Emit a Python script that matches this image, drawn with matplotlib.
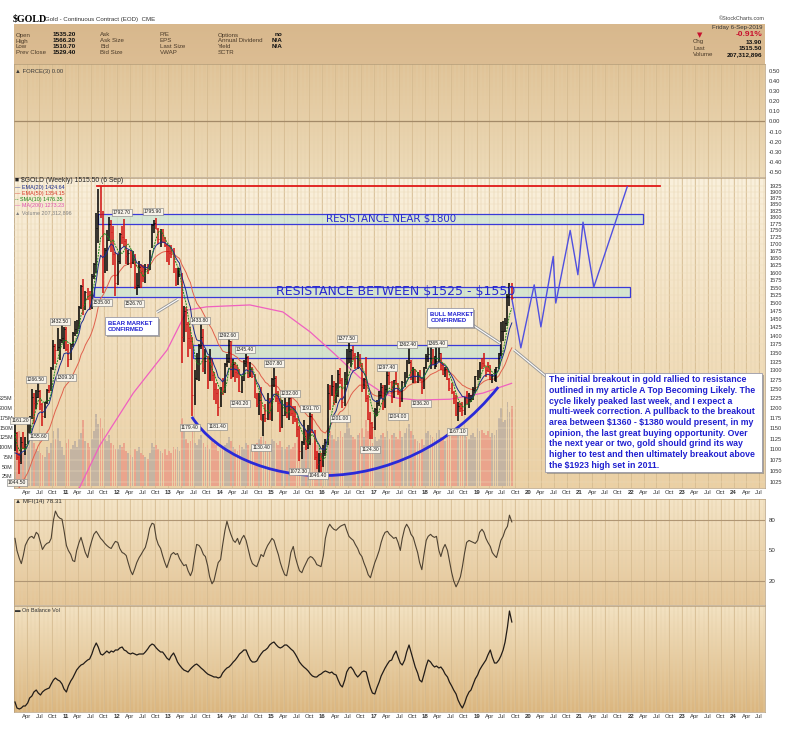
"""$GOLD weekly chart with Force, MFI and OBV panels, StockCharts style."""
import matplotlib
matplotlib.use("Agg")
import matplotlib.pyplot as plt
import matplotlib.patheffects as pe
from matplotlib.colors import to_rgb
from matplotlib.patches import Rectangle, PathPatch
from matplotlib.path import Path
import numpy as np
import pandas as pd

plt.rcParams["font.family"] = ["Liberation Sans", "DejaVu Sans"]

W, H = 797, 739

# ---- price bars, two per month (Jan 2010 .. 6 Sep 2019) ----
close = [
    1138, 1083, 1070, 1118, 1105, 1113, 1150, 1179, 1230, 1213, 1230, 1245, 1210, 1180, 1215, 1247, 1246, 1308, 1368, 1359, 1367, 1386, 1393, 1421,
    1360, 1333, 1375, 1409, 1420, 1439, 1486, 1556, 1493, 1536, 1530, 1500, 1590, 1628, 1760, 1825, 1815, 1620, 1680, 1714, 1775, 1746, 1665, 1566,
    1640, 1737, 1725, 1711, 1658, 1669, 1660, 1664, 1555, 1560, 1620, 1604, 1590, 1614, 1610, 1692, 1772, 1776, 1755, 1719, 1730, 1712, 1696, 1675,
    1668, 1663, 1608, 1578, 1592, 1597, 1395, 1476, 1435, 1393, 1385, 1234, 1280, 1313, 1370, 1396, 1308, 1327, 1280, 1323, 1287, 1250, 1240, 1204,
    1252, 1240, 1319, 1326, 1383, 1283, 1318, 1295, 1293, 1245, 1275, 1322, 1337, 1282, 1305, 1286, 1226, 1210, 1222, 1171, 1185, 1175, 1222, 1184,
    1277, 1279, 1227, 1213, 1153, 1183, 1207, 1182, 1226, 1189, 1181, 1172, 1148, 1095, 1118, 1132, 1108, 1115, 1180, 1141, 1082, 1065, 1076, 1061,
    1090, 1116, 1239, 1234, 1258, 1233, 1235, 1291, 1273, 1217, 1278, 1322, 1355, 1357, 1343, 1311, 1327, 1317, 1257, 1276, 1227, 1173, 1162, 1152,
    1197, 1212, 1235, 1254, 1203, 1249, 1288, 1268, 1230, 1275, 1266, 1243, 1218, 1269, 1290, 1322, 1325, 1284, 1304, 1271, 1293, 1276, 1256, 1309,
    1340, 1345, 1356, 1318, 1319, 1327, 1348, 1316, 1289, 1305, 1278, 1253, 1241, 1233, 1184, 1206, 1201, 1196, 1227, 1215, 1223, 1226, 1247, 1284,
    1292, 1325, 1322, 1316, 1302, 1298, 1277, 1285, 1288, 1311, 1348, 1413, 1413, 1437, 1523, 1529, 1515.5,
]
high = [
    1161, 1142, 1090, 1128, 1141, 1128, 1165, 1180, 1249, 1240, 1247, 1265.5, 1247, 1212, 1215, 1250, 1260, 1310, 1388, 1375, 1424, 1390, 1432.5, 1425,
    1425, 1375, 1375, 1411, 1445, 1447, 1490, 1557, 1577, 1540, 1550, 1540, 1595, 1632, 1815, 1911, 1923, 1825, 1685, 1750, 1802, 1790, 1765, 1670,
    1665, 1740, 1765, 1792.7, 1720, 1680, 1680, 1675, 1665, 1600, 1640, 1630, 1625, 1630, 1630, 1680, 1775, 1790, 1798, 1760, 1755, 1755, 1725, 1700,
    1695, 1695, 1685, 1615, 1615, 1617, 1600, 1490, 1488, 1440, 1425, 1395, 1300, 1348, 1375, 1433.8, 1420, 1360, 1340, 1360, 1335, 1295, 1265, 1250,
    1255, 1280, 1320, 1345, 1392.6, 1385, 1331, 1325, 1315, 1305, 1285, 1330, 1345.4, 1340, 1325, 1310, 1290, 1240, 1240, 1255, 1185, 1210, 1240, 1225,
    1280, 1307.8, 1285, 1245, 1225, 1220, 1225, 1215, 1230, 1232, 1205, 1205, 1175, 1155, 1120, 1170, 1145, 1157, 1191.7, 1185, 1145, 1095, 1090, 1090,
    1110, 1125, 1263.9, 1260, 1287.8, 1270, 1265, 1300, 1306, 1280, 1295, 1362, 1377.5, 1360, 1370, 1350, 1352, 1345, 1320, 1280, 1337, 1235, 1190, 1165,
    1200, 1221, 1245, 1265, 1260, 1260, 1297.4, 1297, 1270, 1275, 1296, 1265, 1245, 1270, 1295, 1330, 1362.4, 1330, 1310, 1305, 1295, 1300, 1280, 1310,
    1345, 1366, 1365, 1360, 1340, 1365, 1365.4, 1350, 1320, 1310, 1310, 1280, 1265, 1245, 1235, 1215, 1212, 1215, 1230, 1245, 1240, 1235, 1255, 1285,
    1300, 1325, 1335, 1349, 1310, 1325, 1315, 1290, 1305, 1311, 1350, 1442, 1445, 1453, 1530, 1566, 1566.2,
]
low = [
    1095, 1075, 1044.5, 1066, 1100, 1087, 1112, 1136, 1172, 1160, 1199, 1225, 1195, 1155.6, 1175, 1210, 1240, 1245, 1300, 1318, 1355, 1330, 1378, 1360,
    1355, 1309.1, 1330, 1365, 1398, 1405, 1420, 1480, 1462, 1478, 1510, 1478, 1480, 1580, 1600, 1705, 1795, 1532, 1600, 1605, 1710, 1670, 1625, 1523.9,
    1560, 1630, 1700, 1690, 1630, 1625, 1615, 1630, 1545, 1526.7, 1550, 1550, 1570, 1565, 1595, 1610, 1685, 1740, 1755, 1700, 1690, 1705, 1690, 1636,
    1625, 1650, 1600, 1555, 1560, 1585, 1321, 1380, 1410, 1338, 1360, 1179.4, 1208, 1275, 1270, 1360, 1295, 1290, 1251, 1270, 1270, 1222, 1210, 1181.4,
    1202, 1235, 1238, 1310, 1320, 1277, 1283, 1268, 1280, 1243, 1240.2, 1270, 1310, 1280, 1282, 1280, 1225, 1204, 1183, 1170, 1130.4, 1165, 1170, 1170,
    1167, 1255, 1215, 1190, 1142, 1150, 1180, 1175, 1170, 1180, 1160, 1165, 1130, 1072.3, 1077, 1110, 1098, 1100, 1110, 1138, 1075, 1055, 1046.4, 1047,
    1060, 1085, 1110, 1195, 1232, 1208, 1212, 1230, 1262, 1200, 1205, 1260, 1320, 1310, 1330, 1305, 1305, 1310, 1241, 1250, 1215, 1171, 1124.3, 1125,
    1145, 1180, 1205, 1225, 1195, 1200, 1240, 1260, 1214, 1225, 1260, 1235, 1204, 1215, 1255, 1280, 1318, 1275, 1265, 1265, 1265, 1270, 1236.2, 1250,
    1305, 1325, 1305, 1315, 1303, 1310, 1325, 1300, 1287, 1282, 1275, 1245, 1236, 1211, 1180, 1167.1, 1190, 1180, 1182, 1210, 1200, 1215, 1220, 1240,
    1275, 1280, 1305, 1310, 1281, 1295, 1275, 1266, 1270, 1268, 1305, 1340, 1385, 1410, 1430, 1490, 1510.7,
]
# average weekly volume, millions
volume_m = [
    120, 105, 140, 95, 85, 90, 100, 130, 150, 110, 95, 90, 85, 80, 75, 100, 85, 110, 140, 120, 150, 115, 100, 80,
    110, 120, 95, 105, 115, 100, 120, 135, 170, 115, 110, 100, 120, 140, 185, 160, 175, 150, 120, 115, 130, 110, 105, 95,
    95, 105, 100, 110, 90, 85, 80, 75, 95, 90, 100, 85, 80, 75, 70, 85, 110, 100, 105, 95, 90, 85, 95, 80,
    90, 85, 100, 95, 100, 90, 175, 150, 120, 110, 115, 140, 110, 105, 120, 130, 110, 100, 105, 95, 115, 110, 105, 90,
    95, 100, 105, 110, 125, 115, 100, 95, 90, 105, 100, 95, 110, 105, 95, 90, 100, 110, 120, 125, 130, 115, 105, 90,
    120, 115, 110, 105, 115, 100, 95, 100, 105, 95, 100, 110, 120, 145, 115, 100, 105, 100, 120, 110, 115, 105, 100, 85,
    110, 120, 175, 140, 130, 120, 115, 125, 140, 125, 135, 170, 150, 130, 125, 120, 130, 135, 150, 125, 170, 140, 130, 110,
    125, 115, 120, 130, 135, 125, 140, 120, 130, 135, 125, 120, 140, 125, 135, 150, 160, 140, 130, 120, 115, 110, 120, 105,
    135, 140, 130, 125, 120, 135, 145, 125, 120, 115, 125, 140, 130, 140, 145, 155, 135, 130, 140, 125, 120, 130, 135, 125,
    150, 140, 145, 135, 130, 140, 125, 135, 130, 145, 175, 200, 165, 170, 215, 190, 205,
]
mfi = [
    62, 50, 42, 37, 45, 55, 60, 63, 64, 62, 68, 66, 58, 51, 55, 57, 58, 62, 80, 89, 84, 82, 81, 70,
    55, 50, 46, 40, 39, 50, 58, 63, 55, 48, 43, 52, 60, 66, 69, 66, 62, 60, 57, 55, 53, 52, 56, 59,
    58, 52, 48, 47, 45, 38, 30, 26, 32, 38, 43, 46, 50, 53, 62, 72, 77, 76, 62, 56, 52, 45, 38, 33,
    40, 46, 48, 46, 47, 42, 38, 35, 36, 30, 25, 30, 45, 56, 55, 52, 46, 44, 35, 24, 17, 20, 30, 38,
    41, 55, 70, 79, 72, 66, 60, 58, 62, 56, 62, 65, 60, 52, 42, 37, 35, 34, 40, 46, 44, 50, 55, 58,
    62, 60, 52, 46, 38, 32, 26, 25, 36, 48, 54, 44, 36, 30, 28, 33, 38, 42, 44, 43, 40, 36, 35, 34,
    45, 62, 72, 76, 73, 71, 70, 72, 74, 75, 76, 70, 64, 62, 60, 56, 52, 47, 44, 38, 32, 26, 23, 30,
    38, 43, 50, 58, 64, 68, 69, 66, 64, 62, 63, 58, 50, 62, 72, 76, 72, 66, 63, 56, 48, 38, 31, 45,
    60, 64, 66, 64, 63, 64, 50, 44, 52, 56, 50, 40, 28, 20, 14, 18, 24, 34, 48, 58, 60, 59, 58, 57,
    60, 68, 71, 68, 62, 58, 54, 48, 45, 43, 52, 60, 64, 70, 74, 85, 78.31,
]
# on balance volume, relative units
obv = [
    10, 4, 3, 4, 6, 6, 9, 14, 16, 20, 22, 19, 17, 20, 22, 23, 24, 28, 32, 34, 32, 31, 28, 23,
    20, 26, 31, 34, 38, 42, 45, 47, 48, 50, 52, 53, 58, 64, 69, 65, 58, 57, 59, 61, 59, 61, 60, 62,
    62, 64, 65, 62, 61, 59, 58, 59, 58, 57, 58, 58, 58, 60, 63, 66, 68, 67, 64, 62, 60, 60, 57, 54,
    52, 56, 59, 55, 50, 47, 44, 42, 41, 40, 43, 45, 47, 48, 46, 44, 42, 40, 38, 37, 36, 35, 35, 34,
    35, 39, 42, 44, 45, 47, 50, 52, 55, 58, 60, 62, 62, 57, 52, 50, 50, 51, 55, 58, 61, 62, 64, 67,
    69, 70, 67, 65, 64, 65, 67, 67, 65, 63, 61, 58, 54, 50, 47, 45, 43, 41, 38, 36, 35, 35, 37, 38,
    40, 41, 40, 39, 40, 38, 37, 32, 27, 25, 32, 40, 44, 45, 42, 38, 35, 37, 40, 41, 40, 32, 24, 19,
    18, 24, 30, 36, 40, 44, 48, 51, 52, 57, 61, 55, 49, 47, 52, 60, 67, 60, 52, 45, 39, 32, 30, 37,
    46, 52, 50, 47, 45, 46, 44, 45, 42, 38, 35, 30, 26, 22, 18, 12, 7, 4, 9, 15, 20, 22, 28, 33,
    37, 42, 46, 49, 52, 57, 62, 55, 49, 49, 52, 56, 62, 70, 85, 101, 90,
]
assert len(close) == len(high) == len(low) == len(volume_m) == len(mfi) == len(obv)

ma200_t = [2010.0, 2011.28, 2011.67, 2012.32, 2012.98, 2013.37, 2013.75, 2014.59, 2015.23,
           2015.76, 2016.21, 2016.73, 2017.18, 2017.45, 2017.84, 2018.48, 2019.12, 2019.68]
ma200_v = [850, 1015, 1109, 1239, 1358, 1478, 1488, 1494, 1472,
           1411, 1350, 1280, 1239, 1226, 1221, 1223, 1239, 1265]
ema20_seed, ema50_seed = 1080, 990

# ---- hand-drawn annotations (decimal year, price) ----
high_2011 = 1923
red_line_t = [2011.61, 2022.57]
zone_1800 = (2011.64, 2022.24, 1774, 1811)
zone_1525 = (2011.56, 2021.98, 1520, 1552)
zone_1360 = (2013.48, 2019.46, 1334, 1372)
proj_t = [2019.69, 2019.86, 2020.12, 2020.25, 2020.49, 2020.54, 2020.82, 2020.97, 2021.07, 2021.28, 2021.93]
proj_p = [1510, 1364, 1559, 1426, 1656, 1500, 1750, 1593, 1781, 1552, 1920]
cup_t = [2013.46, 2014.40, 2017.51, 2019.42]
cup_p = [1178, 1008, 967, 1255]
price_labels = [
    ("1044.50", 2010.06, 1024), ("1161.20", 2010.12, 1170), ("1155.60", 2010.47, 1131),
    ("1266.50", 2010.43, 1274), ("1309.10", 2011.01, 1282), ("1432.50", 2010.89, 1441),
    ("1535.00", 2011.71, 1503), ("1792.70", 2012.10, 1816), ("1795.90", 2012.70, 1820),
    ("1526.70", 2012.33, 1500), ("1433.80", 2013.62, 1444), ("1392.60", 2014.16, 1401),
    ("1345.40", 2014.49, 1358), ("1179.40", 2013.42, 1153), ("1181.40", 2013.95, 1155),
    ("1240.20", 2014.40, 1213), ("1130.40", 2014.81, 1105), ("1307.80", 2015.06, 1318),
    ("1232.00", 2015.37, 1239), ("1191.70", 2015.76, 1200), ("1072.30", 2015.54, 1050),
    ("1046.40", 2015.91, 1041), ("1201.00", 2016.34, 1175), ("1377.50", 2016.48, 1390),
    ("1297.40", 2017.26, 1307), ("1124.30", 2016.93, 1100), ("1204.00", 2017.47, 1178),
    ("1362.40", 2017.65, 1375), ("1365.40", 2018.23, 1378), ("1236.20", 2017.92, 1213),
    ("1167.10", 2018.62, 1143),
]
note_lines = [
    "The initial breakout in gold rallied to resistance",
    "outlined in my article A Top Becoming Likely. The",
    "cycle likely peaked last week, and I expect a",
    "multi-week correction. A pullback to the breakout",
    "area between $1360 - $1380 would present, in my",
    "opinion, the last great buying opportunity. Over",
    "the next year or two, gold should grind its way",
    "higher to test and then ultimately breakout above",
    "the $1923 high set in 2011.",
]


def dec_year(ts):
    start = pd.Timestamp(ts.year, 1, 1)
    return ts.year + (ts - start).days / (366 if ts.is_leap_year else 365)


bar_dates = pd.date_range("2010-01-01", periods=len(close), freq="SMS") + pd.Timedelta(days=7)
x = np.array([dec_year(d) for d in bar_dates])
c = np.array(close, dtype=float)
up = np.r_[True, c[1:] >= c[:-1]]


def ema(vals, span, seed):
    a = 2.0 / (span + 1)
    out, e = [], seed
    for v in vals:
        e += a * (v - e)
        out.append(e)
    return np.array(out)


# spans converted from weeks to half-month bars
ema20 = ema(c, 9.2, ema20_seed)
ema50 = ema(c, 23, ema50_seed)
sma10 = pd.Series(c).rolling(5, min_periods=1).mean().values

quarters = pd.date_range("2010-04-01", "2024-07-01", freq="QS")
q_x = [dec_year(d) for d in quarters]
q_lab = [f"{d.year % 100:02d}" if d.month == 1 else d.strftime("%b") for d in quarters]
m_x = [dec_year(d) for d in pd.date_range("2010-02-01", "2024-08-01", freq="MS")]

fig = plt.figure(figsize=(W / 100, H / 100), dpi=100)


def prect(x0, y0, x1, y1):
    return [x0 / W, 1 - y1 / H, (x1 - x0) / W, (y1 - y0) / H]


def ftext(px, py, s, **kw):
    kw.setdefault("va", "center")
    fig.text(px / W, 1 - py / H, s, parse_math=False, **kw)


def panel_bg(r, top, bottom):
    b = fig.add_axes(prect(*r), zorder=0)
    c0, c1 = np.array(to_rgb(top)), np.array(to_rgb(bottom))
    t = np.linspace(0, 1, 128)[:, None, None]
    b.imshow(c0 + (c1 - c0) * t, aspect="auto", extent=[0, 1, 0, 1], origin="upper")
    b.set_axis_off()


def style(a):
    a.patch.set_visible(False)
    for s in a.spines.values():
        s.set_color("#b39b78")
        s.set_linewidth(0.5)
    for m in m_x:
        a.axvline(m, color="#e4d0aa", lw=0.35, zorder=0)
    for q in q_x:
        a.axvline(q, color="#d3b88d", lw=0.5, zorder=0)


HEAD = (14, 24, 765, 64)
FORCE = (14, 64, 765, 177)
MAIN = (14, 178, 765, 488)
MFI_R = (14, 499, 765, 605)
OBV_R = (14, 606, 765, 712)

panel_bg(HEAD, "#d8b88d", "#dcbd93")
panel_bg(FORCE, "#e0c397", "#eedcba")
panel_bg(MAIN, "#faf0dc", "#ebd0a4")
panel_bg(MFI_R, "#f4e4c6", "#e4c597")
panel_bg(OBV_R, "#f3e2c2", "#dbb67f")

vax = fig.add_axes(prect(*MAIN), zorder=1)
style(vax)
fx = fig.add_axes(prect(*FORCE), zorder=1, sharex=vax)
style(fx)
mx = fig.add_axes(prect(*MFI_R), zorder=1, sharex=vax)
style(mx)
ox = fig.add_axes(prect(*OBV_R), zorder=1, sharex=vax)
style(ox)

# ---- force panel ----
fx.axhline(0, color="#a38a68", lw=0.9, zorder=2)
fx.set_ylim(-0.55, 0.569)
f_ticks = [round(v, 1) for v in np.arange(-0.5, 0.51, 0.1)]
fx.set_yticks(f_ticks, [f"{abs(v):.2f}" if v == 0 else f"{v:.2f}" for v in f_ticks])
fx.yaxis.tick_right()
fx.tick_params(axis="y", labelsize=4.2, length=0, pad=3, colors="#333333")
fx.tick_params(axis="x", labelbottom=False, length=0)

# ---- main panel: volume underneath, price on log scale on top ----
vcol = ["#c4b4a2" if u else "#eaa48c" for u in up]
vax.bar(x, volume_m, width=1 / 24 * 0.8, color=vcol, zorder=1, linewidth=0)
vax.set_ylim(-5, 790)
v_ticks = list(range(25, 226, 25))
vax.set_yticks(v_ticks, [f"{v}M" for v in v_ticks])
vax.tick_params(axis="y", labelsize=3.9, length=0, pad=0.8, colors="#333333")
vax.set_xticks(q_x, q_lab)
vax.tick_params(axis="x", labelsize=4.3, length=0, pad=1.5, colors="#333333")

ax = vax.twinx()
ax.set_zorder(2)
ax.patch.set_visible(False)
for s in ax.spines.values():
    s.set_visible(False)
ax.set_yscale("log")
ax.set_ylim(1013, 1956)
p_ticks = list(range(1025, 1926, 25))
ax.set_yticks(p_ticks, [str(p) for p in p_ticks])
ax.minorticks_off()
ax.tick_params(axis="y", labelsize=4.1, length=0, pad=3, colors="#333333")
for p in p_ticks:
    ax.axhline(p, color="#ecdcbc", lw=0.35, zorder=0)

# resistance zones
for (t0, t1, p0, p1) in (zone_1800, zone_1525, zone_1360):
    ax.add_patch(Rectangle((t0, p0), t1 - t0, p1 - p0, facecolor=(0.78, 0.9, 0.84, 0.65),
                           edgecolor="#3a3ad8", lw=0.9, zorder=1.5))
ax.text((zone_1800[0] + zone_1800[1]) / 2 + 0.4, 1793, "RESISTANCE NEAR $1800", fontsize=7.4,
        family=["DejaVu Sans"], color="#2a2ad0", ha="center", va="center", parse_math=False, zorder=6)
ax.text((zone_1525[0] + zone_1525[1]) / 2 + 0.65, 1536, "RESISTANCE BETWEEN $1525 - $1550",
        fontsize=9.0, family=["DejaVu Sans"], color="#2a2ad0", ha="center", va="center",
        parse_math=False, zorder=6)
ax.plot(red_line_t, [high_2011, high_2011], color="#e01818", lw=1.3, zorder=4)

# bars
bcol = ["#000000" if u else "#d01010" for u in up]
ax.vlines(x, low, high, colors=bcol, lw=1.1, zorder=3)
ax.hlines(close, x, x + 0.016, colors=bcol, lw=0.7, zorder=3)

# moving averages
ax.plot(ma200_t, ma200_v, color="#f060c0", lw=0.9, zorder=2.5)
ax.plot(x, ema50, color="#e0604c", lw=0.7, zorder=2.6)
ax.plot(x, ema20, color="#1a2a8a", lw=0.7, zorder=3.2)
ax.plot(x, sma10, color="#1a8a1a", lw=0.7, ls=(0, (2, 1)), zorder=3.3)

# cup and projected path
cup = Path(list(zip(cup_t, cup_p)), [Path.MOVETO, Path.CURVE4, Path.CURVE4, Path.CURVE4])
ax.add_patch(PathPatch(cup, facecolor="none", edgecolor="#2a2ad8", lw=2.0, zorder=4))
ax.plot(proj_t, proj_p, color="#5050e0", lw=1.0, zorder=4)

# price labels
for txt, t, p in price_labels:
    ax.text(t, p, txt, fontsize=3.6, ha="center", va="center", color="#222222", zorder=6,
            bbox=dict(boxstyle="square,pad=0.2", fc="#f7f3ea", ec="#7c7c7c", lw=0.4))

# callouts
def pointer(t0, p0, t1, p1):
    ax.plot([t0, t1], [p0, p1], color="#9a9a9a", lw=2.2, zorder=5, solid_capstyle="butt")
    ax.plot([t0, t1], [p0, p1], color="#ffffff", lw=0.8, zorder=5.1)


def callout(t0, t1, p0, p1):
    ax.add_patch(Rectangle((t0, p0), t1 - t0, p1 - p0, facecolor="white", edgecolor="#9a9aa8",
                           lw=0.6, zorder=6,
                           path_effects=[pe.SimplePatchShadow(offset=(1.5, -1.5), shadow_rgbFace="#808080", alpha=0.6),
                                         pe.Normal()]))


pointer(2012.78, 1471, 2013.19, 1512)
callout(2011.77, 2012.80, 1401, 1456)
ax.text(2011.83, 1428, "BEAR MARKET\nCONFIRMED", fontsize=4.3, fontweight="bold", color="#2020d0",
        ha="left", va="center", linespacing=1.3, zorder=7)
pointer(2018.87, 1437, 2019.46, 1377)
callout(2018.04, 2018.93, 1426, 1484)
ax.text(2018.10, 1455, "BULL MARKET\nCONFIRMED", fontsize=4.3, fontweight="bold", color="#2020d0",
        ha="left", va="center", linespacing=1.3, zorder=7)
pointer(2019.73, 1358, 2020.35, 1284)
callout(2020.33, 2024.55, 1048, 1292)
ax.text(2020.40, 1287, "\n".join(note_lines), fontsize=6.3, fontweight="bold", color="#2020d0",
        ha="left", va="top", linespacing=1.24, parse_math=False, zorder=7)

# ---- MFI ----
mx.axhline(80, color="#b09674", lw=0.8, zorder=1)
mx.axhline(20, color="#b09674", lw=0.8, zorder=1)
mx.axhline(50, color="#e0c8a0", lw=0.5, zorder=1)
mx.plot(x, mfi, color="#4e4232", lw=0.8, zorder=3)
mx.set_ylim(-4, 101)
mx.set_yticks([20, 50, 80], ["20", "50", "80"])
mx.yaxis.tick_right()
mx.tick_params(axis="y", labelsize=4.4, length=0, pad=3, colors="#333333")
mx.tick_params(axis="x", labelbottom=False, length=0)

# ---- OBV ----
ox.plot(x, obv, color="#221c18", lw=0.9, zorder=3)
ox.set_ylim(0, 106)
ox.set_yticks([])
ox.tick_params(axis="x", labelsize=4.3, length=0, pad=1.5, colors="#333333", labelbottom=True)

vax.set_xlim(2010.0, 2024.61)
for a in (vax, ox):
    for lab in a.get_xticklabels():
        if lab.get_text().isdigit():
            lab.set_fontweight("bold")

# ---- header ----
ftext(13, 19, "$GOLD", fontsize=7.2, fontweight="bold", family=["Liberation Serif", "DejaVu Serif"])
ftext(45, 19, "Gold - Continuous Contract (EOD)  CME", fontsize=4.4, color="#333333")
ftext(765, 19, "©StockCharts.com", fontsize=4.0, color="#444444", ha="right")
rows = [35, 41, 47, 52.5]
hdr = dict(fontsize=4.4, color="#4a3a28")
val = dict(fontsize=4.6, color="#111111", fontweight="bold")
for y, lab, v in zip(rows, ["Open", "High", "Low", "Prev Close"], ["1535.20", "1566.20", "1510.70", "1529.40"]):
    ftext(16, y, lab, **hdr)
    ftext(53, y, v, **val)
for y, lab in zip(rows, ["Ask", "Ask Size", "Bid", "Bid Size"]):
    ftext(100, y, lab, **hdr)
for y, lab in zip(rows, ["P/E", "EPS", "Last Size", "VWAP"]):
    ftext(160, y, lab, **hdr)
for y, lab, v in zip(rows, ["Options", "Annual Dividend", "Yield", "SCTR"], ["no", "N/A", "N/A", ""]):
    ftext(218, y, lab, **hdr)
    ftext(282, y, v, ha="right", **val)
ftext(762, 28, "Friday 6-Sep-2019", fontsize=4.4, color="#333333", ha="right")
ftext(697, 35, "▼", fontsize=5, color="#c8102e", family=["DejaVu Sans"])
ftext(762, 35, "-0.91%", fontsize=6.0, color="#c8102e", fontweight="bold", ha="right")
for y, lab, v in zip([42, 48, 54.5], ["Chg", "Last", "Volume"], ["13.90", "1515.50", "207,312,896"]):
    ftext(693, y, lab, **hdr)
    ftext(762, y, v, ha="right", **val)

# panel captions
ftext(15, 71, "▲ FORCE(3) 0.00", fontsize=4.2, color="#3a3a3a")
ftext(15, 181, "■ $GOLD (Weekly) 1515.50 (6 Sep)", fontsize=4.9, color="#222222")
ftext(15, 187, "— EMA(20) 1424.64", fontsize=3.9, color="#1a2a8a")
ftext(15, 193, "— EMA(50) 1354.15", fontsize=3.9, color="#d83a2a")
ftext(15, 199.5, "-- SMA(10) 1476.35", fontsize=3.9, color="#1a8a1a")
ftext(15, 206, "— MA(200) 1273.23", fontsize=3.9, color="#e050b0")
ftext(15, 212.5, "▲ Volume 207,312,896", fontsize=3.9, color="#808080")
ftext(15, 502, "▲ MFI(14) 78.31", fontsize=4.4, color="#333333")
ftext(15, 611, "▬ On Balance Vol", fontsize=4.0, color="#333333")

fig.savefig("out.png", dpi=100)
